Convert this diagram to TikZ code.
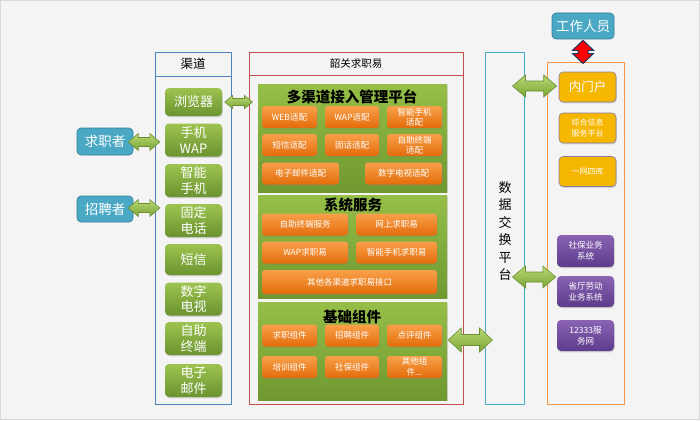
\documentclass[tikz,border=0pt]{standalone}
\usepackage{fontspec}
\setmainfont{Noto Sans CJK SC}
\usetikzlibrary{calc,shadows}
\definecolor{bgc}{HTML}{F4F4F4}
\definecolor{framec}{HTML}{D8D8D8}
\definecolor{blueb}{HTML}{4F81BD}
\definecolor{redb}{HTML}{C0504D}
\definecolor{cyanb}{HTML}{4BACC6}
\definecolor{orangeb}{HTML}{F79646}
\definecolor{gtop}{HTML}{9DC34F}
\definecolor{gbot}{HTML}{6B9330}
\definecolor{ptop}{HTML}{95BF47}
\definecolor{pbot}{HTML}{6F9830}
\definecolor{otop}{HTML}{F9A04A}
\definecolor{obot}{HTML}{E36C0A}
\definecolor{yel}{HTML}{F5B700}
\definecolor{yelb}{HTML}{8C7BA8}
\definecolor{purt}{HTML}{8A63B3}
\definecolor{purb}{HTML}{5E3B8C}
\definecolor{tealc}{HTML}{4AA8C4}
\definecolor{tealb}{HTML}{2E7E98}
\definecolor{arrt}{HTML}{B8D873}
\definecolor{arrb}{HTML}{7AA436}
\definecolor{arrl}{HTML}{6A8E30}
\definecolor{navy}{HTML}{1F3864}
\newcommand\gdarrow[5]{% from, to, head length, head half, body half
  \path[garrow] (#1) -- ($(#1)+(#3,-#4)$) -- ($(#1)+(#3,-#5)$) -- ($(#2)+(-#3,-#5)$)
    -- ($(#2)+(-#3,-#4)$) -- (#2) -- ($(#2)+(-#3,#4)$) -- ($(#2)+(-#3,#5)$)
    -- ($(#1)+(#3,#5)$) -- ($(#1)+(#3,#4)$) -- cycle;}
\newcommand\rdarrow[5]{% vertical: from (top), to (bottom)
  \path[rarrow] (#1) -- ($(#1)+(-#4,#3)$) -- ($(#1)+(-#5,#3)$) -- ($(#2)+(-#5,-#3)$)
    -- ($(#2)+(-#4,-#3)$) -- (#2) -- ($(#2)+(#4,-#3)$) -- ($(#2)+(#5,-#3)$)
    -- ($(#1)+(#5,#3)$) -- ($(#1)+(#4,#3)$) -- cycle;}
\begin{document}
\begin{tikzpicture}[x=1pt,y=-1pt,
  shd/.style={drop shadow={opacity=0.28,shadow xshift=0.8pt,shadow yshift=-1.3pt}},
  frm/.style={draw=#1,line width=1pt,inner sep=0pt},
  chanbtn/.style={shd,rounded corners=4pt,top color=gtop,bottom color=gbot,
    minimum width=57pt,minimum height=33pt,text=white,inner sep=0pt,align=center,
    font=\fontsize{13}{15.5}\selectfont},
  panel/.style={shd,top color=ptop,bottom color=pbot,minimum width=189pt,inner sep=0pt},
  ptitle/.style={font=\fontsize{14.5}{16}\selectfont\bfseries,text=black,inner sep=0pt},
  obtn/.style={shd,rounded corners=3pt,top color=otop,bottom color=obot,text=white,
    minimum height=22pt,inner sep=0pt,align=center,font=\fontsize{8.5}{10.5}\selectfont},
  ybtn/.style={shd,rounded corners=4pt,fill=yel,draw=yelb,line width=0.6pt,text=white,
    minimum width=57pt,minimum height=30pt,inner sep=0pt,align=center,
    font=\fontsize{8}{10.5}\selectfont},
  pbtn/.style={shd,rounded corners=4pt,top color=purt,bottom color=purb,text=white,
    minimum width=57pt,minimum height=31pt,inner sep=0pt,align=center,
    font=\fontsize{8.5}{11}\selectfont},
  tbtn/.style={rounded corners=4pt,fill=tealc,draw=tealb,line width=0.6pt,text=white,
    inner sep=0pt,align=center,font=\fontsize{13.5}{15}\selectfont},
  garrow/.style={top color=arrt,bottom color=arrb,draw=arrl,line width=0.6pt,line join=miter},
  rarrow/.style={fill=red,draw=navy,line width=1pt,line join=miter}
]
\useasboundingbox (0,0) rectangle (700,420);
\fill[bgc] (0,0) rectangle (700,420);
\draw[framec,line width=1pt] (0.5,0.5) rectangle (699.5,419.5);

% outer frames
\node[frm=blueb,minimum width=76pt,minimum height=352pt] (chan) at (193,228) {};
\node[frm=blueb,minimum width=76pt,minimum height=24pt,font=\fontsize{12.5}{14}\selectfont] (chanhead) at (193,64) {渠道};
\node[frm=redb,minimum width=214pt,minimum height=352pt] (redbox) at (356,228) {};
\node[frm=redb,minimum width=214pt,minimum height=23pt,font=\fontsize{10.5}{12}\selectfont] (redhead) at (356,63.5) {韶关求职易};
\node[frm=cyanb,minimum width=39pt,minimum height=352pt] (xchg) at (504.5,228) {};
\node[align=center,inner sep=0pt,font=\fontsize{13}{17.5}\selectfont] (xchgtext) at (505,231) {数\\据\\交\\换\\平\\台};
\node[frm=orangeb,minimum width=77pt,minimum height=342pt] (obox) at (585.5,233) {};

% channel buttons
\node[chanbtn,minimum height=28pt] (browser) at (193.5,102) {浏览器};
\node[chanbtn] (wap) at (193.5,140) {手机\\WAP};
\node[chanbtn] (smart) at (193.5,180.5) {智能\\手机};
\node[chanbtn] (fixed) at (193.5,220.5) {固定\\电话};
\node[chanbtn,minimum height=31pt] (sms) at (193.5,259.5) {短信};
\node[chanbtn] (tv) at (193.5,299) {数字\\电视};
\node[chanbtn] (kiosk) at (193.5,338.5) {自助\\终端};
\node[chanbtn] (email) at (193.5,380.5) {电子\\邮件};

% panels
\node[panel,minimum height=108pt] (p1) at (352.5,138) {};
\node[panel,minimum height=103pt] (p2) at (352.5,246.5) {};
\node[panel,minimum height=98pt] (p3) at (352.5,351) {};
\node[ptitle] (t1) at (352,97) {多渠道接入管理平台};
\node[ptitle] (t2) at (353,205) {系统服务};
\node[ptitle] (t3) at (352,317) {基础组件};

% panel 1 buttons
\node[obtn,minimum width=55pt] (a1) at (289.5,117) {WEB适配};
\node[obtn,minimum width=54pt] (a2) at (352,117) {WAP适配};
\node[obtn,minimum width=55pt] (a3) at (414.5,117) {智能手机\\适配};
\node[obtn,minimum width=55pt] (a4) at (289.5,145) {短信适配};
\node[obtn,minimum width=54pt] (a5) at (352,145) {固话适配};
\node[obtn,minimum width=55pt] (a6) at (414.5,145) {自助终端\\适配};
\node[obtn,minimum width=77pt] (a7) at (300.5,173.5) {电子邮件适配};
\node[obtn,minimum width=77pt] (a8) at (403.5,173.5) {数字电视适配};

% panel 2 buttons
\node[obtn,minimum width=86pt] (b1) at (305,224.5) {自助终端服务};
\node[obtn,minimum width=81pt] (b2) at (396.5,224.5) {网上求职易};
\node[obtn,minimum width=86pt] (b3) at (305,252.5) {WAP求职易};
\node[obtn,minimum width=81pt] (b4) at (396.5,252.5) {智能手机求职易};
\node[obtn,minimum width=175pt,minimum height=24pt] (b5) at (349.5,282) {其他各渠道求职易接口};

% panel 3 buttons
\node[obtn,minimum width=55pt] (c1) at (289.5,335.5) {求职组件};
\node[obtn,minimum width=54pt] (c2) at (352,335.5) {招聘组件};
\node[obtn,minimum width=55pt] (c3) at (414.5,335.5) {点评组件};
\node[obtn,minimum width=55pt] (c4) at (289.5,367) {培训组件};
\node[obtn,minimum width=54pt] (c5) at (352,367) {社保组件};
\node[obtn,minimum width=55pt] (c6) at (414.5,367) {其他组\\件...};

% right column
\node[ybtn,font=\fontsize{12.5}{14}\selectfont] (portal) at (587.5,87) {内门户};
\node[ybtn] (info) at (587.5,128) {综合信息\\服务平台};
\node[ybtn] (db) at (587.5,171.5) {一网四库};
\node[pbtn,minimum height=32pt] (social) at (585.5,251) {社保业务\\系统};
\node[pbtn] (prov) at (585.5,291.5) {省厅劳动\\业务系统};
\node[pbtn] (net) at (585.5,335.5) {12333服\\务网};

% people
\node[tbtn,minimum width=62pt,minimum height=26pt] (staff) at (583,26) {工作人员};
\node[tbtn,minimum width=56pt,minimum height=27pt] (seeker) at (105,141.5) {求职者};
\node[tbtn,minimum width=56pt,minimum height=26pt] (recruiter) at (105,209) {招聘者};

% arrows
\gdarrow{$(browser.east)+(2.5,0)$}{$(browser.east -| redbox.west)+(4,0)$}{8}{6.5}{3.5}
\gdarrow{$(seeker.east)+(-5,0.5)$}{$(seeker.east -| wap.west)+(-5,0.5)$}{10}{8.5}{4.5}
\gdarrow{$(recruiter.east)+(-5,-1)$}{$(recruiter.east -| fixed.west)+(-5,-1)$}{10}{8.5}{4.5}
\gdarrow{$(p3.east)+(1,-11)$}{$(p3.east -| xchg.west)+(8,-11)$}{13}{12}{5.5}
\gdarrow{$(portal.west -| xchg.east)+(-12,-1)$}{$(portal.west)+(-2,-1)$}{13}{11}{5}
\gdarrow{$(prov.west -| xchg.east)+(-12,-14.5)$}{$(prov.west)+(-1,-14.5)$}{13}{11}{5}
\rdarrow{$(staff.south)+(0,1)$}{$(staff.south |- obox.north)+(0,2)$}{10}{10.5}{5}
\end{tikzpicture}
\end{document}
